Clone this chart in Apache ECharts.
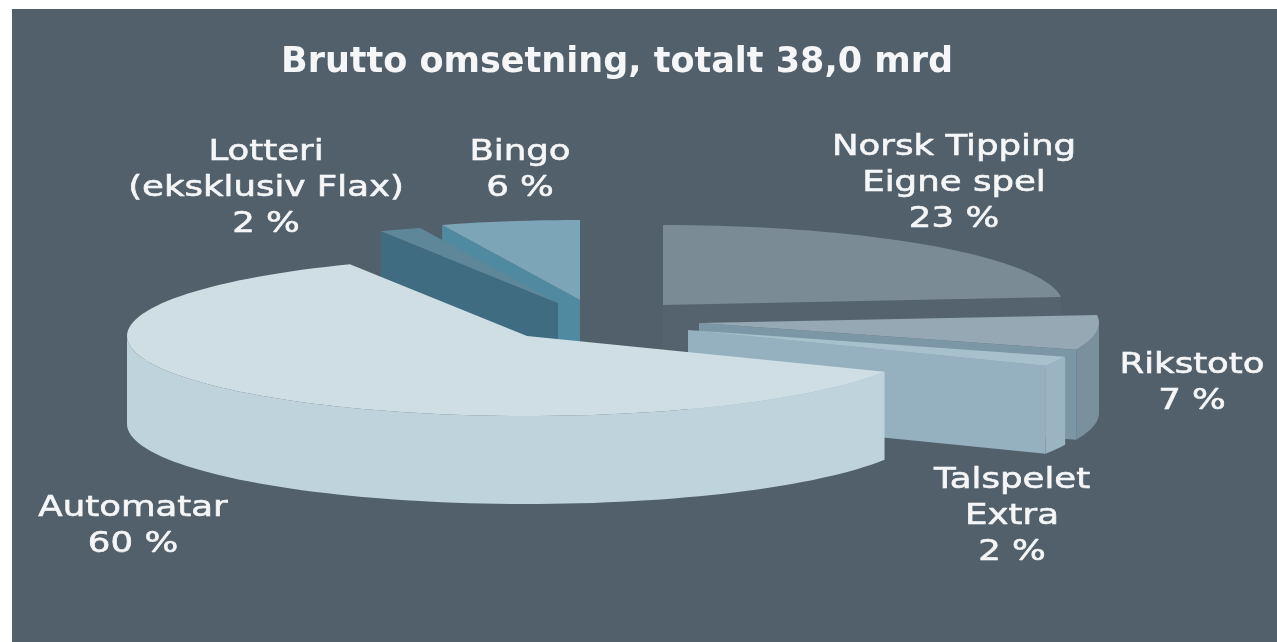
<!DOCTYPE html>
<html lang="nn">
<head>
    <meta charset="UTF-8">
    <title>Brutto omsetning</title>
    <script src="https://cdn.jsdelivr.net/npm/echarts@6/dist/echarts.min.js"></script>
    <style>
        html, body { margin: 0; padding: 0; background: #fff; }
    </style>
</head>
<body>
    <div id="main" style="width: 1277px; height: 642px;"></div>
    <script type="text/javascript">
        // Data, clockwise from twelve o'clock. Shares, labels print them rounded.
        var titleText = 'Brutto omsetning, totalt 38,0 mrd';
        var names = ['Norsk Tipping\nEigne spel', 'Rikstoto', 'Talspelet\nExtra', 'Automatar', 'Lotteri\n(eksklusiv Flax)', 'Bingo'];
        var shares = [23.4, 7.0, 2.0, 60.3, 1.7, 5.6];

        // Layout of the exploded pie
        var radiusX = 400, radiusY = 80;
        var apexes = [[663, 305], [699, 323], [688, 330], [527, 336], [558, 303], [580, 300]];
        var depths = [45, 90, 88, 88, 88, 88];
        var labelCentres = [[954, 130], [1192, 348], [1012, 463], [133, 491], [266, 135], [520, 135]];
        var topColors = ['#7a8b96', '#95a8b4', '#a6c0cc', '#cfdde4', '#5e8799', '#7ca5b8'];
        var wallColors = ['#53616c', '#7a909c', '#9ab4c1', '#bfd3dd', '#3f6c80', '#4f8aa0'];
        var faceColors = ['#55636e', '#7b96a4', '#95b1bf', '#bfd3dd', '#3f6c80', '#4f8aa0'];
        var drawOrder = [0, 1, 2, 5, 4, 3];

        var chartDom = document.getElementById('main');
        var myChart = echarts.init(chartDom);

        // Start and end angle of each slice, in degrees on the flattened ellipse
        var total = shares.reduce(function (a, b) { return a + b; }, 0);
        var angles = [];
        var running = -90;
        shares.forEach(function (s) {
            var next = running + s / total * 360;
            angles.push([running, next]);
            running = next;
        });

        function rimPoint(i, deg, drop) {
            var t = deg * Math.PI / 180;
            return [apexes[i][0] + radiusX * Math.cos(t), apexes[i][1] + radiusY * Math.sin(t) + drop];
        }

        function rimArc(i, from, to, drop) {
            var pts = [];
            var steps = Math.max(2, Math.ceil(Math.abs(to - from) / 2));
            for (var k = 0; k <= steps; k++) {
                pts.push(rimPoint(i, from + (to - from) * k / steps, drop));
            }
            return pts;
        }

        function poly(points, color) {
            return { type: 'polygon', shape: { points: points }, style: { fill: color } };
        }

        // The flat cut face running from the apex out to the rim at angle deg
        function cutFace(i, deg) {
            var d = depths[i];
            var a = apexes[i];
            var rimTop = rimPoint(i, deg, 0);
            var rimBottom = rimPoint(i, deg, d);
            return poly([a, rimTop, rimBottom, [a[0], a[1] + d]], faceColors[i]);
        }

        function renderSlice(params, api) {
            var i = api.value(0);
            var share = api.value(1);
            var from = angles[i][0], to = angles[i][1];
            var children = [];

            if (Math.cos(from * Math.PI / 180) < 0) children.push(cutFace(i, from));
            if (Math.cos(to * Math.PI / 180) > 0) children.push(cutFace(i, to));

            // Outer wall, only the part facing the viewer (0 to 180 degrees)
            var wallFrom = Math.max(from, 0), wallTo = Math.min(to, 180);
            if (wallTo > wallFrom) {
                var top = rimArc(i, wallFrom, wallTo, 0);
                var bottom = rimArc(i, wallTo, wallFrom, depths[i]);
                children.push(poly(top.concat(bottom), wallColors[i]));
            }

            children.push(poly([apexes[i]].concat(rimArc(i, from, to, 0)), topColors[i]));

            // The reference text is stretched sideways
            children.push({
                type: 'text',
                x: labelCentres[i][0],
                y: labelCentres[i][1],
                scaleX: 1.27,
                style: {
                    text: names[i] + '\n' + Math.round(share) + ' %',
                    fill: '#f4f6f7',
                    font: '28px "DejaVu Sans"',
                    lineHeight: 36,
                    stroke: '#f4f6f7',
                    lineWidth: 0.6,
                    align: 'center',
                    verticalAlign: 'top'
                }
            });
            return { type: 'group', children: children };
        }

        var option = {
            animation: false,
            title: {
                text: titleText,
                left: 612,
                top: 40,
                textAlign: 'center',
                textStyle: { color: '#f4f6f7', fontFamily: 'DejaVu Sans', fontWeight: 'bold', fontSize: 35 }
            },
            graphic: [{
                type: 'rect',
                z: -10,
                shape: { x: 12, y: 9, width: 1265, height: 633 },
                style: { fill: '#52606b' }
            }],
            series: [{
                type: 'custom',
                coordinateSystem: 'none',
                renderItem: renderSlice,
                data: drawOrder.map(function (i) { return [i, shares[i]]; })
            }]
        };

        option && myChart.setOption(option);
    </script>
</body>
</html>
